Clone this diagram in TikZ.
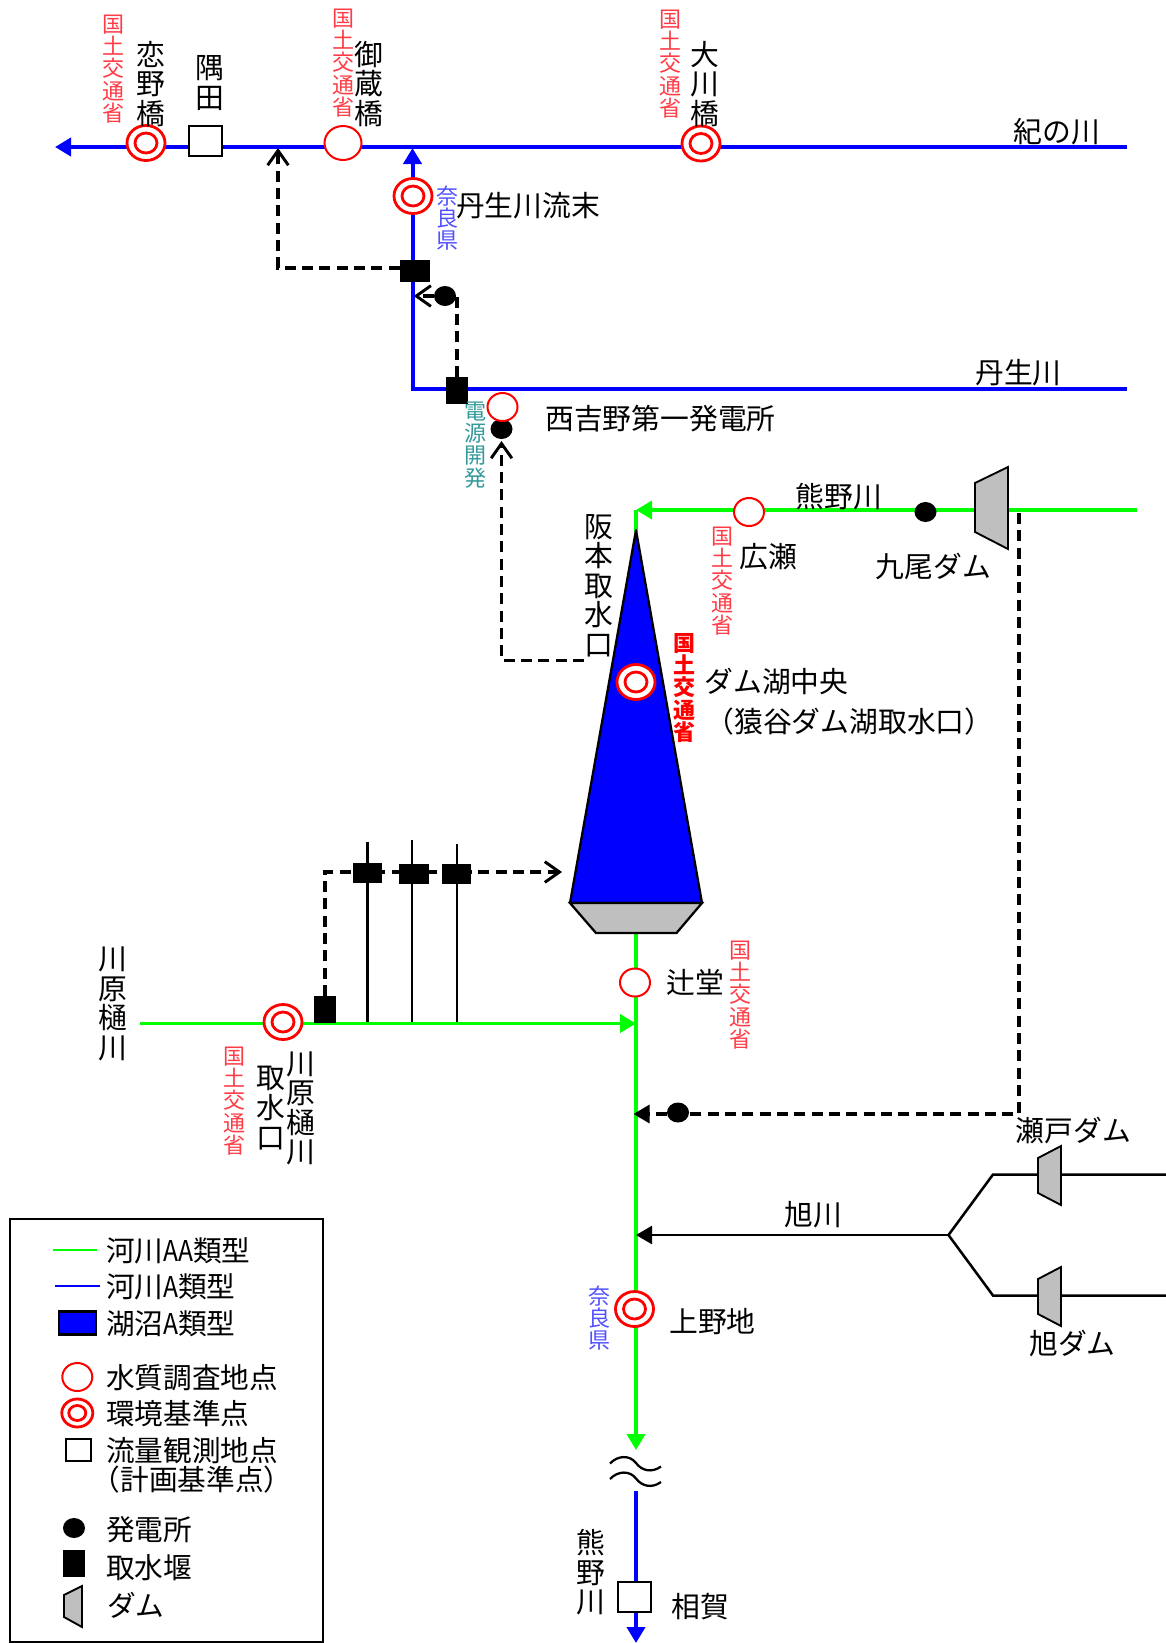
\documentclass[tikz,border=0pt]{standalone}
\usepackage{fontspec}
\setmainfont{Noto Sans CJK JP}
\usetikzlibrary{shapes.geometric,arrows.meta,backgrounds}
\def\px{0.75pt}
\definecolor{rgreen}{rgb}{0,1,0}
\definecolor{rblue}{rgb}{0,0,1}
\definecolor{damgray}{RGB}{191,191,191}
\definecolor{mlit}{RGB}{255,60,70}
\definecolor{nara}{RGB}{80,80,255}
\definecolor{jpower}{RGB}{51,153,153}
\tikzset{
  x=0.75pt,y=-0.75pt,
  sz/.style 2 args={minimum width=#1*\px,minimum height=#2*\px},
  every node/.style={inner sep=0pt,outer sep=0pt},
  greenl/.style={draw=rgreen,line width=2.9pt},
  bluel/.style={draw=rblue,line width=3pt},
  blackl/.style={draw=black,line width=1.9pt},
  dashl/.style={draw=black,line width=2.4pt,dash pattern=on 8.2pt off 4.8pt},
  tipfill/.style={-{Triangle[length=12pt,width=13.5pt]}},
  tipopen/.style={-{Straight Barb[length=11pt,width=15.5pt,line width=2.2pt]}},
  survey/.style={ellipse,draw=red,fill=white,line width=1.5pt,sz={30}{28}},
  survbig/.style={ellipse,draw=red,fill=white,line width=1.5pt,sz={37}{34}},
  stdout/.style={ellipse,draw=red,fill=white,line width=2.1pt,sz={38}{35}},
  stdin/.style={ellipse,draw=red,fill=white,line width=2.1pt,sz={22}{20}},
  gauge/.style={rectangle,draw=black,fill=white,line width=1.5pt},
  plant/.style={ellipse,fill=black,sz={22}{20}},
  intake/.style={rectangle,fill=black},
  damf/.style={fill=damgray,draw=black,line width=1.4pt,line join=miter},
  lab/.style={font=\fontsize{21.6}{22.2}\selectfont,text=black},
  vlab/.style={align=center,font=\fontsize{21.6}{22.2}\selectfont,text=black},
  vsmall/.style={align=center,font=\fontsize{16.5}{16.7}\selectfont},
  legt/.style={anchor=west,font=\fontsize{21.5}{22}\selectfont,text=black}
}
\newcommand{\hA}[1]{\scalebox{0.86}[1]{#1}}
\begin{document}
\begin{tikzpicture}
\useasboundingbox (0,0) rectangle (1166,1643);

% lake and dam body
\filldraw[fill=rblue,draw=black,line width=1.7pt,line join=round] (636,530) -- (702,903) -- (570,903) -- cycle;
\filldraw[damf,line width=1.7pt] (570,903) -- (702,903) -- (676.5,933) -- (596,933) -- cycle;

% free ends
\coordinate (kiiR) at (1127,147);
\coordinate (kiiL) at (55,147);
\coordinate (niuJoin) at (412.5,148);
\coordinate (niuCorner) at (412.5,388.5);
\coordinate (niuR) at (1127,388.5);
\coordinate (branchA) at (278,148);
\coordinate (kumaR) at (1137,510);
\coordinate (kumaTop) at (636,510);
\coordinate (lakeTip) at (636,532);
\coordinate (lakeBase) at (636,933);
\coordinate (breakUp) at (636,1450);
\coordinate (breakDown) at (636,1491);
\coordinate (bottom) at (636,1643);
\coordinate (kawaL) at (140,1023.5);
\coordinate (kawaR) at (636,1023.5);
\coordinate (intoLake) at (562,872);
\coordinate (sakaEnd) at (584,660.5);
\coordinate (outflow) at (633.5,1114);
\coordinate (asaJoin) at (636,1235);
\coordinate (fork) at (948.5,1235);
\coordinate (forkU) at (993,1174.5);
\coordinate (forkL) at (993,1295.5);
\coordinate (setoR) at (1166,1174.5);
\coordinate (asaR) at (1166,1295.5);
\coordinate (stream1T) at (367.5,842);
\coordinate (stream2T) at (412,840);
\coordinate (stream3T) at (457,844);
\coordinate (stream1B) at (367.5,1023.5);
\coordinate (stream2B) at (412,1023.5);
\coordinate (stream3B) at (457,1023.5);
\coordinate (toKinoT) at (413.7,296);
\coordinate (damDash) at (1019,513);
\coordinate (plantBTip) at (501.5,441);
\coordinate (weirAW) at (399.5,268);

% points
\node[stdout] (koino) at (146,143) {}; \node[stdin] (koinoI) at (koino) {};
\node[gauge,sz={33}{30}] (sumida) at (205.5,141) {};
\node[survbig] (mikura) at (343,143) {};
\node[stdout] (okawa) at (701,143.5) {}; \node[stdin] (okawaI) at (okawa) {};
\node[stdout] (niuEnd) at (413,196) {}; \node[stdin] (niuEndI) at (niuEnd) {};
\node[intake,sz={30}{22}] (weirA) at (414.5,271) {};
\node[plant] (plantA) at (445,296) {};
\node[intake,sz={22}{27}] (weirB) at (457,390.5) {};
\node[plant] (plantB) at (501.5,429) {};
\node[survey] (nishi) at (502.5,407) {};
\node[survey] (hirose) at (749,512) {};
\node[plant] (plantC) at (925.5,512) {};
\node[stdout] (damc) at (636,682) {}; \node[stdin] (damcI) at (damc) {};
\node[stdout] (kawaP) at (283,1022) {}; \node[stdin] (kawaPI) at (kawaP) {};
\node[intake,sz={22}{27}] (weirK) at (325,1009.5) {};
\node[intake,sz={29}{20}] (weirS1) at (367.5,872.5) {};
\node[intake,sz={30}{20}] (weirS2) at (414,874) {};
\node[intake,sz={29}{20}] (weirS3) at (456.5,874) {};
\node[survey] (tsuji) at (635,982.5) {};
\node[plant] (plantD) at (678,1112.5) {};
\node[stdout] (ueno) at (634.5,1309) {}; \node[stdin] (uenoI) at (ueno) {};
\node[gauge,sz={33}{30}] (ouga) at (634.5,1597) {};

% connectors
\begin{pgfonlayer}{background}
\draw[dashl,tipopen] (weirAW) -| (branchA);
\draw[dashl,tipopen] (weirB.north) |- (toKinoT);
\draw[dashl,tipopen] (sakaEnd) -| (plantBTip);
\draw[bluel,tipfill] (kiiR) -- (kiiL);
\draw[bluel,tipfill] (niuR) -- (niuCorner) -- (niuJoin);
\draw[blackl] (stream1T) -- (stream1B);
\draw[blackl] (stream2T) -- (stream2B);
\draw[blackl] (stream3T) -- (stream3B);
\draw[dashl,tipopen] (weirK.north) |- (intoLake);
\draw[greenl,tipfill] (kumaR) -- (kumaTop);
\draw[greenl] (kumaTop) -- (lakeTip);
\draw[greenl,tipfill] (lakeBase) -- (breakUp);
\draw[greenl,tipfill] (kawaL) -- (kawaR);
\draw[bluel,tipfill] (breakDown) -- (bottom);
\draw[dashl,tipfill] (damDash) |- (outflow);
\draw[blackl,tipfill] (fork) -- (asaJoin);
\draw[blackl] (setoR) -- (forkU) -- (fork) -- (forkL) -- (asaR);
\end{pgfonlayer}

% dams
\filldraw[damf] (975,483) -- (1008,467) -- (1008,549) -- (975,532) -- cycle;
\filldraw[damf] (1038,1158) -- (1061,1146) -- (1061,1205) -- (1038,1193) -- cycle;
\filldraw[damf] (1038,1279) -- (1061,1267) -- (1061,1326) -- (1038,1314) -- cycle;

% break mark
\draw[line width=1.7pt] (610,1463.5) .. controls (618,1455) and (630,1455) .. (636,1463) .. controls (642,1471) and (652,1473) .. (661,1466.5);
\draw[line width=1.7pt] (610,1479) .. controls (618,1470.5) and (630,1470.5) .. (636,1478.5) .. controls (642,1486.5) and (652,1488.5) .. (661,1482);

% black labels
\node[vlab] (tKoino) at (151,84) {恋\\野\\橋};
\node[vlab] (tSumida) at (209.5,83) {隅\\田};
\node[vlab] (tMikura) at (369,84) {御\\蔵\\橋};
\node[vlab] (tOkawa) at (705,84) {大\\川\\橋};
\node[lab] (tKii) at (1057,131.5) {紀の川};
\node[lab] (tNiuEnd) at (528,205.5) {丹生川流末};
\node[lab] (tNiu) at (1018.5,372.5) {丹生川};
\node[lab] (tNishi) at (660.5,418.5) {西吉野第一発電所};
\node[lab] (tKumano) at (839,497) {熊野川};
\node[lab] (tHirose) at (768,557) {広瀬};
\node[lab] (tKuo) at (933.5,566) {九尾ダム};
\node[vlab] (tSaka) at (599,585.5) {阪\\本\\取\\水\\口};
\node[lab] (tDamc) at (776.5,681.5) {ダム湖中央};
\node[lab] (tSaru) at (849.5,722) {（猿谷ダム湖取水口）};
\node[vlab] (tKawaL) at (113,1004) {川\\原\\樋\\川};
\node[vlab] (tKawaI) at (270.5,1108) {取\\水\\口};
\node[vlab] (tKawaP) at (301,1108.5) {川\\原\\樋\\川};
\node[lab] (tTsuji) at (695.5,982.5) {辻堂};
\node[lab] (tSeto) at (1073.5,1131) {瀬戸ダム};
\node[lab] (tAsaR) at (813.5,1214.5) {旭川};
\node[lab] (tAsaD) at (1072.5,1343) {旭ダム};
\node[lab] (tUeno) at (712.5,1321.5) {上野地};
\node[vlab] (tKumS) at (591,1572.5) {熊\\野\\川};
\node[lab] (tOuga) at (700,1606.5) {相賀};

% agency labels
\node[vsmall,text=mlit] (m1) at (113,69) {国\\土\\交\\通\\省};
\node[vsmall,text=mlit] (m2) at (343.5,63) {国\\土\\交\\通\\省};
\node[vsmall,text=mlit] (m3) at (670.5,64) {国\\土\\交\\通\\省};
\node[vsmall,text=mlit] (m4) at (722,581) {国\\土\\交\\通\\省};
\node[vsmall,text=red,font=\fontsize{16.5}{16.7}\selectfont\bfseries] (m5) at (684,688) {国\\土\\交\\通\\省};
\node[vsmall,text=mlit] (m6) at (740.5,995) {国\\土\\交\\通\\省};
\node[vsmall,text=mlit] (m7) at (234.5,1101) {国\\土\\交\\通\\省};
\node[vsmall,text=nara] (n1) at (447.5,218) {奈\\良\\県};
\node[vsmall,text=nara] (n2) at (599.5,1318) {奈\\良\\県};
\node[vsmall,text=jpower] (j1) at (475,445) {電\\源\\開\\発};

% legend
\draw[draw=black,line width=1.7pt] (10,1219) rectangle (323,1642.5);
\coordinate (lgA) at (52.5,1250); \coordinate (lgB) at (97,1250);
\coordinate (lgC) at (55,1286); \coordinate (lgD) at (100,1286);
\draw[draw=rgreen,line width=2pt] (lgA) -- (lgB);
\draw[draw=rblue,line width=2pt] (lgC) -- (lgD);
\node[rectangle,fill=rblue,draw=black,line width=1.7pt,sz={37}{23}] (lgLake) at (77.5,1323) {};
\node[survey] (lgS) at (77.3,1377) {};
\node[ellipse,draw=red,fill=white,line width=2.1pt,sz={31}{28}] (lgE) at (77.3,1413) {};
\node[ellipse,draw=red,fill=white,line width=2.1pt,sz={17}{15}] (lgEI) at (lgE) {};
\node[gauge,line width=1.3pt,sz={25}{22}] (lgG) at (78.3,1450) {};
\node[plant] (lgP) at (74,1528) {};
\node[intake,sz={22}{27}] (lgW) at (74,1563.5) {};
\filldraw[damf] (64,1595) -- (82,1586) -- (82,1627) -- (64,1617) -- cycle;
\node[legt] (l1) at (106,1250.5) {河川\hA{AA}類型};
\node[legt] (l2) at (106,1286.5) {河川\hA{A}類型};
\node[legt] (l3) at (106,1323.5) {湖沼\hA{A}類型};
\node[legt] (l4) at (106,1377.5) {水質調査地点};
\node[legt] (l5) at (106,1413.5) {環境基準点};
\node[legt] (l6) at (106,1450.5) {流量観測地点};
\node[font=\fontsize{21.5}{22}\selectfont,text=black] (l7) at (192,1479.5) {（計画基準点）};
\node[legt] (l8) at (106,1529.5) {発電所};
\node[legt] (l9) at (106,1567.5) {取水堰};
\node[legt] (l10) at (107,1605.5) {ダム};
\end{tikzpicture}
\end{document}
